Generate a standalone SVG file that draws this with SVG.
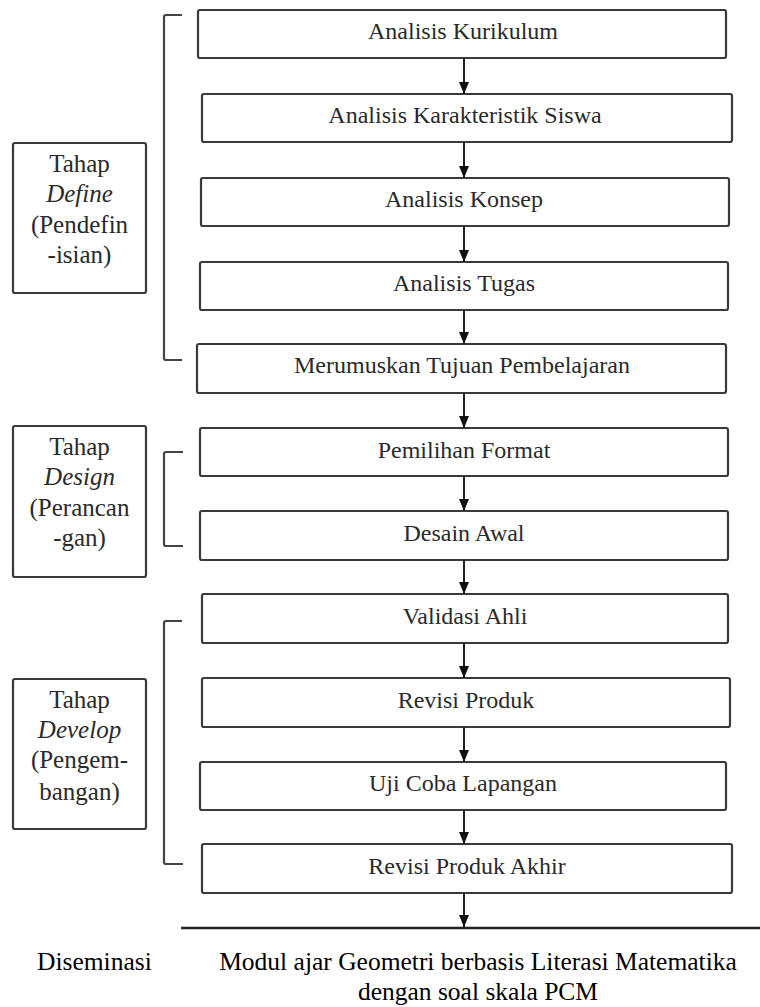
<svg xmlns="http://www.w3.org/2000/svg" width="760" height="1007" viewBox="0 0 760 1007">
<defs>
<style>
.box{fill:#fff;stroke:#3a3a3a;stroke-width:2.2}
.t{font-family:"Liberation Serif","Times New Roman",serif;font-size:24px;fill:#2a2a2a;text-anchor:middle}
.s{font-family:"Liberation Serif","Times New Roman",serif;font-size:25px;fill:#2a2a2a;text-anchor:middle}
.i{font-style:italic}
.b{font-family:"Liberation Serif","Times New Roman",serif;font-size:25.5px;fill:#000}
.c{fill:none;stroke:#222;stroke-width:2}
.br{fill:none;stroke:#444;stroke-width:2.2}
</style>
<marker id="ah" markerUnits="userSpaceOnUse" markerWidth="12" markerHeight="12" viewBox="0 0 12 10" refX="12" refY="5" orient="auto">
<path d="M0,0 L12,5 L0,10 z" fill="#111"/>
</marker>
</defs>
<rect width="760" height="1007" fill="#fff"/>

<g id="n1"><rect class="box" x="198" y="10" width="528" height="48" rx="2"/><text class="t" x="463" y="39">Analisis Kurikulum</text></g>
<g id="n2"><rect class="box" x="202" y="94" width="530" height="48" rx="2"/><text class="t" x="465" y="123">Analisis Karakteristik Siswa</text></g>
<g id="n3"><rect class="box" x="201" y="178" width="528" height="48" rx="2"/><text class="t" x="464" y="207">Analisis Konsep</text></g>
<g id="n4"><rect class="box" x="200" y="262" width="528" height="48" rx="2"/><text class="t" x="464" y="291">Analisis Tugas</text></g>
<g id="n5"><rect class="box" x="197" y="344" width="529" height="49" rx="2"/><text class="t" x="462" y="373">Merumuskan Tujuan Pembelajaran</text></g>
<g id="n6"><rect class="box" x="200" y="428" width="528" height="48" rx="2"/><text class="t" x="464" y="458">Pemilihan Format</text></g>
<g id="n7"><rect class="box" x="200" y="511" width="528" height="49" rx="2"/><text class="t" x="464" y="541">Desain Awal</text></g>
<g id="n8"><rect class="box" x="202" y="594" width="526" height="49" rx="2"/><text class="t" x="465" y="624">Validasi Ahli</text></g>
<g id="n9"><rect class="box" x="202" y="678" width="528" height="49" rx="2"/><text class="t" x="466" y="708">Revisi Produk</text></g>
<g id="n10"><rect class="box" x="200" y="762" width="526" height="48" rx="2"/><text class="t" x="463" y="791">Uji Coba Lapangan</text></g>
<g id="n11"><rect class="box" x="202" y="844" width="530" height="49" rx="2"/><text class="t" x="467" y="874">Revisi Produk Akhir</text></g>

<g id="define">
<rect class="box" x="13" y="143" width="133" height="150" rx="2"/>
<text class="s" x="79.5" y="172">Tahap</text>
<text class="s i" x="79.5" y="202">Define</text>
<text class="s" x="79.5" y="233">(Pendefin</text>
<text class="s" x="79.5" y="263">-isian)</text>
</g>
<g id="design">
<rect class="box" x="13" y="426" width="133" height="151" rx="2"/>
<text class="s" x="79.5" y="455">Tahap</text>
<text class="s i" x="79.5" y="485">Design</text>
<text class="s" x="79.5" y="516">(Perancan</text>
<text class="s" x="79.5" y="546">-gan)</text>
</g>
<g id="develop">
<rect class="box" x="13" y="679" width="133" height="150" rx="2"/>
<text class="s" x="79.5" y="708">Tahap</text>
<text class="s i" x="79.5" y="738">Develop</text>
<text class="s" x="79.5" y="768">(Pengem-</text>
<text class="s" x="79.5" y="800">bangan)</text>
</g>

<g id="brackets">
<path class="br" d="M182,15 H166 Q164,15 164,17 V358 Q164,360 166,360 H182"/>
<path class="br" d="M183,452 H166 Q164,452 164,454 V544 Q164,546 166,546 H183"/>
<path class="br" d="M182,621 H166 Q164,621 164,623 V862 Q164,864 166,864 H183"/>
</g>

<g id="connectors">
<line class="c" x1="464" y1="58" x2="464" y2="94" marker-end="url(#ah)"/>
<line class="c" x1="464" y1="142" x2="464" y2="178" marker-end="url(#ah)"/>
<line class="c" x1="464" y1="226" x2="464" y2="262" marker-end="url(#ah)"/>
<line class="c" x1="464" y1="310" x2="464" y2="344" marker-end="url(#ah)"/>
<line class="c" x1="464" y1="393" x2="464" y2="428" marker-end="url(#ah)"/>
<line class="c" x1="464" y1="476" x2="464" y2="511" marker-end="url(#ah)"/>
<line class="c" x1="464" y1="560" x2="464" y2="594" marker-end="url(#ah)"/>
<line class="c" x1="464" y1="643" x2="464" y2="678" marker-end="url(#ah)"/>
<line class="c" x1="464" y1="727" x2="464" y2="762" marker-end="url(#ah)"/>
<line class="c" x1="464" y1="810" x2="464" y2="844" marker-end="url(#ah)"/>
<line class="c" x1="464" y1="893" x2="464" y2="927" marker-end="url(#ah)"/>
<line x1="181" y1="928" x2="760" y2="928" stroke="#222" stroke-width="2.5"/>
</g>

<g id="bottom">
<text class="b" x="37" y="970">Diseminasi</text>
<text class="b" x="478" y="970" text-anchor="middle">Modul ajar Geometri berbasis Literasi Matematika</text>
<text class="b" x="478" y="1000" text-anchor="middle">dengan soal skala PCM</text>
</g>
</svg>
